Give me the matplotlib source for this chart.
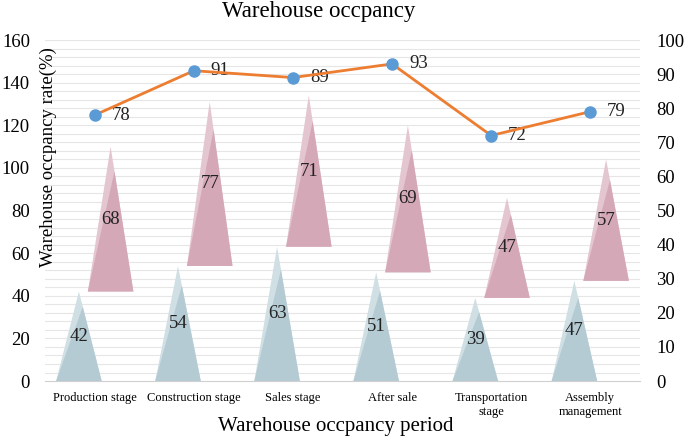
import numpy as np
import matplotlib.pyplot as plt
from matplotlib.patches import Polygon

plt.rcParams['font.family'] = ['Liberation Serif', 'DejaVu Serif']

categories = ['Production stage', 'Construction stage', 'Sales stage',
              'After sale', 'Transportation\nstage', 'Assembly\nmanagement']
lower = [42, 54, 63, 51, 39, 47]
upper = [68, 77, 71, 69, 47, 57]
rate = [78, 91, 89, 93, 72, 79]

blue_light, blue_dark = '#cfdfe4', '#b5cbd3'
pink_light, pink_dark = '#e4c6d0', '#d5a8b8'


def pyramid(ax, xc, base, height, width, light, dark):
    top = base + height
    xl, xr = xc - width / 2, xc + width / 2
    ax.add_patch(Polygon([(xl, base), (xr, base), (xc, top)],
                         closed=True, facecolor=light, edgecolor='none', zorder=2))
    # darker front face
    f = 0.17
    px = xc + f * (xr - xc)
    py = top - f * height
    ax.add_patch(Polygon([(xl, base), (xr, base), (px, py)],
                         closed=True, facecolor=dark, edgecolor='none', zorder=3))


fig = plt.figure(figsize=(6.85, 4.4), dpi=100)
ax = fig.add_axes([0.066, 0.134, 0.868, 0.775])
x = np.arange(len(categories))
w = 0.46
off = 0.16

for i in range(len(categories)):
    pyramid(ax, x[i] - off, 0, lower[i], w, blue_light, blue_dark)
    pyramid(ax, x[i] + off, lower[i], upper[i], w, pink_light, pink_dark)
    ax.text(x[i] - off, lower[i] / 2, str(lower[i]), ha='center', va='center',
            fontsize=13.5, color='#222222', zorder=5)
    ax.text(x[i] + off, lower[i] + upper[i] / 2, str(upper[i]), ha='center',
            va='center', fontsize=13.5, color='#222222', zorder=5)

ax.set_xlim(-0.5, len(categories) - 0.5)
ax.set_ylim(0, 160)
ax.set_yticks(np.arange(0, 161, 20))
for yy in np.arange(4, 161, 4):
    ax.axhline(yy, color='#e6e6e6', lw=0.8, zorder=0)
ax.set_xticks(x)
ax.set_xticklabels(categories, fontsize=9)
ax.tick_params(length=0, labelsize=13.5, pad=11)
ax.tick_params(axis='x', labelsize=9, pad=8)
for s in ['top', 'left', 'right']:
    ax.spines[s].set_visible(False)
ax.spines['bottom'].set_color('#d0d0d0')

fig.text(48 / 685, 1 - 157 / 440, 'Warehouse occpancy rate(%)', rotation=90,
         ha='center', va='center', fontsize=13.5)
fig.text(336 / 685, 1 - 426 / 440, 'Warehouse occpancy period',
         ha='center', va='center', fontsize=15)
fig.text(319 / 685, 1 - 12 / 440, 'Warehouse occpancy',
         ha='center', va='center', fontsize=16.5)

ax2 = ax.twinx()
ax2.plot(x, rate, color='#ed7d31', lw=2, zorder=4)
ax2.plot(x, rate, 'o', color='#5b9bd5', ms=8, zorder=5)
for i, v in enumerate(rate):
    ax2.text(x[i] + 0.17, v, str(v), ha='left', va='center', fontsize=13.5,
             color='#222222')
ax2.set_ylim(0, 100)
ax2.set_yticks(np.arange(0, 101, 10))
ax2.tick_params(length=0, labelsize=13.5, pad=12)
for s in ['top', 'left', 'right', 'bottom']:
    ax2.spines[s].set_visible(False)

fig.savefig('out.png', dpi=100)
